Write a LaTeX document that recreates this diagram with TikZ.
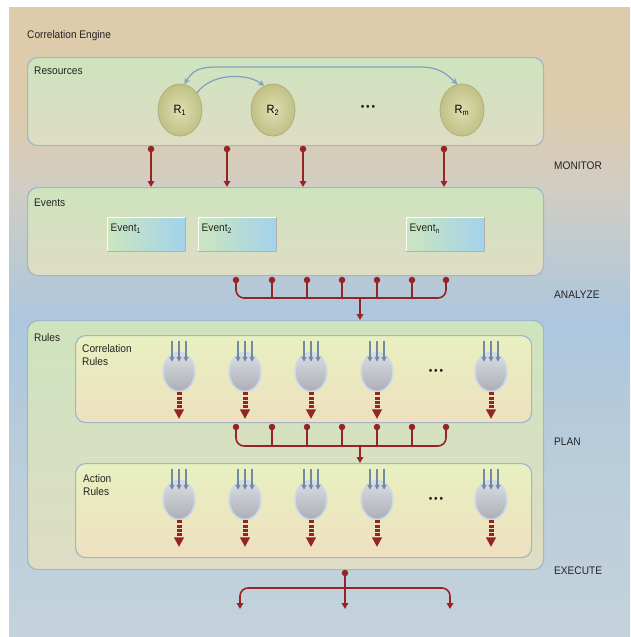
\documentclass[tikz,border=0pt]{standalone}
\usepackage{fontspec}
\setmainfont{Liberation Sans}[FakeStretch=0.92]
\usetikzlibrary{arrows.meta,shapes.geometric}
\definecolor{bgtop}{RGB}{221,203,172}
\definecolor{bgup}{RGB}{210,205,194}
\definecolor{bgmid}{RGB}{172,199,222}
\definecolor{bglow}{RGB}{184,204,218}
\definecolor{bgbot}{RGB}{196,211,219}
\definecolor{bigtop}{RGB}{206,228,190}
\definecolor{bigbot}{RGB}{222,220,196}
\definecolor{ruletop}{RGB}{232,240,192}
\definecolor{rulebot}{RGB}{238,224,192}
\definecolor{boxline}{RGB}{160,182,202}
\definecolor{resin}{RGB}{222,222,178}
\definecolor{resout}{RGB}{192,192,134}
\definecolor{resline}{RGB}{176,176,122}
\definecolor{evleft}{RGB}{204,230,190}
\definecolor{evright}{RGB}{163,210,236}
\definecolor{ovtop}{RGB}{218,222,228}
\definecolor{ovbot}{RGB}{172,176,182}
\definecolor{ovline}{RGB}{205,218,232}
\definecolor{dred}{RGB}{150,36,36}
\definecolor{fork}{RGB}{112,138,164}
\definecolor{arcblue}{RGB}{128,160,192}
\definecolor{txt}{RGB}{35,35,35}
\pgfdeclareverticalshading{bgshade}{100bp}{color(0bp)=(bgbot); color(25bp)=(bgbot); color(40bp)=(bglow); color(50bp)=(bgmid); color(61bp)=(bgup); color(67bp)=(bgtop); color(75bp)=(bgtop); color(100bp)=(bgtop)}
\begin{document}
\begin{tikzpicture}[x=1pt,y=-1pt,
 font=\fontsize{11}{13}\selectfont,
 bigbox/.style={draw=boxline, line width=1.2pt, rounded corners=10pt, top color=bigtop, bottom color=bigbot, anchor=north west, inner sep=0pt},
 rulebox/.style={draw=boxline, line width=1.2pt, rounded corners=10pt, top color=ruletop, bottom color=rulebot, anchor=north west, inner sep=0pt},
 resnode/.style={ellipse, minimum width=44pt, minimum height=52pt, inner color=resin, outer color=resout, draw=resline, line width=0.8pt, inner sep=0pt, font=\fontsize{12}{14}\selectfont},
 evbox/.style={minimum width=78pt, minimum height=34pt, left color=evleft, right color=evright, draw=white, line width=1pt, inner sep=0pt},
 oval/.style={ellipse, minimum width=32pt, minimum height=39pt, top color=ovtop, bottom color=ovbot, draw=ovline, line width=1.5pt, inner sep=0pt},
 redl/.style={draw=dred, line width=1.6pt},
 redarr/.style={redl, -{Triangle[width=6.5pt,length=6pt]}},
 forkarr/.style={draw=fork, line width=1.8pt, -{Triangle[width=5pt,length=5pt]}},
 blarr/.style={draw=arcblue, line width=1.2pt, -{Stealth[width=6pt,length=6pt]}},
 blarrs/.style={draw=arcblue, line width=1.2pt, {Stealth[width=6pt,length=6pt]}-{Stealth[width=6pt,length=6pt]}},
 lbl/.style={anchor=west, text=txt, inner sep=0pt},
 dotmark/.style={fill=dred, circle, inner sep=0pt, minimum size=6.5pt},
]
\useasboundingbox (0,0) rectangle (630,637);
\path[shading=bgshade] (9,7) rectangle (630,637);

% titles
\node[lbl] (title) at (27,36) {Correlation Engine};
\node[lbl] (lmon) at (554,166) {MONITOR};
\node[lbl] (lana) at (554,295) {ANALYZE};
\node[lbl] (lplan) at (554,442) {PLAN};
\node[lbl] (lexe) at (554,571) {EXECUTE};

% main boxes
\node[bigbox, minimum width=516pt, minimum height=88pt] (res) at (27,57) {};
\node[bigbox, minimum width=516pt, minimum height=88pt] (ev) at (27,187) {};
\node[bigbox, minimum width=516pt, minimum height=249pt] (rules) at (27,320) {};
\node[rulebox, minimum width=456pt, minimum height=87pt] (corr) at (75,335) {};
\node[rulebox, minimum width=456pt, minimum height=94pt] (act) at (75,463) {};

\node[lbl] (lres) at (34,71) {Resources};
\node[lbl] (lev) at (34,203) {Events};
\node[lbl] (lrules) at (34,338) {Rules};
\node[anchor=north west, text=txt, inner sep=0pt, align=left] (lcorr) at (82,344) {Correlation\\Rules};
\node[anchor=north west, text=txt, inner sep=0pt, align=left] (lact) at (83,474) {Action\\Rules};

% resources
\node[resnode] (r1) at (180,110) {R\textsubscript{1}};
\node[resnode] (r2) at (273,110) {R\textsubscript{2}};
\node[text=txt] (rdots) at (368,108) {\textbullet\,\textbullet\,\textbullet};
\node[resnode] (rm) at (462,110) {R\textsubscript{m}};
\draw[blarr] (r1.45) .. controls (210,74) and (245,72) .. (r2.110);
\draw[blarrs] (r1.80) .. controls (195,66) and (205,67) .. (230,67) -- (420,67) .. controls (440,67) and (446,74) .. (rm.100);

% events
\node[evbox] (ev1) at (146,234) {};
\node[evbox] (ev2) at (237,234) {};
\node[evbox] (evn) at (445,234) {};
\foreach \e/\s in {ev1/1, ev2/2, evn/n}{
  \draw[gray!60, line width=1pt] (\e.south west) -- (\e.south east) -- (\e.north east);
  \node[lbl] (t\e) at ([shift={(4,12)}]\e.north west) {Event\textsubscript{\s}};
}

% monitor connectors
\foreach \x [count=\i] in {151,227,303,444}{
  \node[dotmark] (m\i) at (\x,149) {};
  \draw[redarr] (m\i.center) -- (m\i |- ev.north);
}

% analyze connector
\foreach \x [count=\i] in {236,272,307,342,377,412,446}{
  \node[dotmark] (a\i) at (\x,280) {};
}
\coordinate (abar) at (360,298);
\draw[redl, rounded corners=8pt] (a1.center) -- (a1 |- abar) -- (a7 |- abar) -- (a7.center);
\foreach \i in {2,...,6}{ \draw[redl] (a\i.center) -- (a\i |- abar); }
\draw[redarr] (abar) -- (abar |- rules.north);

% rule ovals
\foreach \row/\cy in {c/372, q/500}{
  \foreach \x [count=\i] in {179,245,311,377,491}{
    \node[oval] (\row\i) at (\x,\cy) {};
    \foreach \dx in {-7,0,7}{
      \draw[forkarr] ([xshift=\dx pt]\row\i.north) ++(0,-11) coordinate (\row\i f) -- ++(0,21);
    }
    \draw[dred, line width=5pt, dash pattern=on 3pt off 1.4pt] (\row\i.south) -- ++(0,17) coordinate (\row\i d);
    \fill[dred] (\row\i d) ++(-5.2,0) -- ++(10.4,0) -- ++(-5.2,9.5) -- cycle;
  }
  \node[text=txt] (\row dots) at (436,\cy) {\textbullet\,\textbullet\,\textbullet};
}

% plan connector
\foreach \x [count=\i] in {236,272,307,342,377,412,446}{
  \node[dotmark] (p\i) at (\x,427) {};
}
\coordinate (pbar) at (360,446);
\draw[redl, rounded corners=8pt] (p1.center) -- (p1 |- pbar) -- (p7 |- pbar) -- (p7.center);
\foreach \i in {2,...,6}{ \draw[redl] (p\i.center) -- (p\i |- pbar); }
\draw[redarr] (pbar) -- (pbar |- act.north);

% execute connector
\node[dotmark] (e0) at (345,573) {};
\coordinate (el) at (240,609);
\coordinate (er) at (450,609);
\coordinate (ebar) at (345,588);
\draw[redarr] (e0.center) -- (345,609);
\draw[redarr, rounded corners=8pt] (ebar) -- (el |- ebar) -- (el);
\draw[redarr, rounded corners=8pt] (ebar) -- (er |- ebar) -- (er);
\end{tikzpicture}
\end{document}
